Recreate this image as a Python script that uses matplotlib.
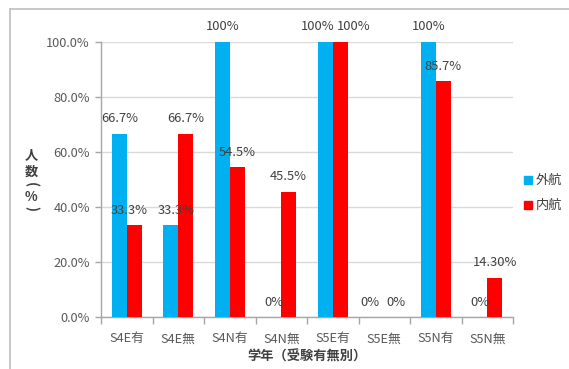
import matplotlib
matplotlib.use("Agg")
import matplotlib.pyplot as plt
from matplotlib.patches import Rectangle
import numpy as np

plt.rcParams['font.family'] = ['Noto Sans CJK JP', 'DejaVu Sans']

categories = ["S4E有", "S4E無", "S4N有", "S4N無", "S5E有", "S5E無", "S5N有", "S5N無"]
gaikou = [66.7, 33.3, 100, 0, 100, 0, 100, 0]
naikou = [33.3, 66.7, 54.5, 45.5, 100, 0, 85.7, 14.3]
gaikou_labels = ["66.7%", "33.3%", "100%", "0%", "100%", "0%", "100%", "0%"]
naikou_labels = ["33.3%", "66.7%", "54.5%", "45.5%", "100%", "0%", "85.7%", "14.30%"]
series_names = ["外航", "内航"]
yticks = [0, 20, 40, 60, 80, 100]
ytick_labels = ["0.0%", "20.0%", "40.0%", "60.0%", "80.0%", "100.0%"]

BLUE = "#00B0F0"
RED = "#FF0000"
GRID = "#D9D9D9"
TXT = "#404040"

# sideways nudges (pixels) so neighbouring value labels don't collide
nudge_gaikou = [0, 5, 0, 0, -8, -7, 0, 0]
nudge_naikou = [-5, 0, 0, 0, 13, 4, 0, 0]

W, H = 569, 369
fig = plt.figure(figsize=(W / 100, H / 100), dpi=100)
ax = fig.add_axes([101 / W, 1 - 317 / H, (513 - 101) / W, (317 - 42) / H])

x = np.arange(len(categories))
bw = 0.29
ax.bar(x - bw / 2, gaikou, width=bw, color=BLUE, zorder=3)
ax.bar(x + bw / 2, naikou, width=bw, color=RED, zorder=3)

# value labels above each bar
for xs, vals, labels, nudges in [(x - bw / 2, gaikou, gaikou_labels, nudge_gaikou),
                                 (x + bw / 2, naikou, naikou_labels, nudge_naikou)]:
    for xi, v, t, dx in zip(xs, vals, labels, nudges):
        ax.annotate(t, xy=(xi, v), xytext=(dx, 15), textcoords="offset pixels",
                    ha="center", va="center", fontsize=9.3, color=TXT,
                    zorder=5, annotation_clip=False)

ax.set_xlim(-0.5, len(categories) - 0.5)
ax.set_ylim(0, 100)
ax.set_yticks(yticks)
ax.set_yticklabels(ytick_labels, fontsize=9.2, color="#595959")
ax.yaxis.grid(True, color=GRID, lw=1, zorder=0)
ax.set_axisbelow(True)

ax.set_xticks(x)
ax.set_xticklabels(categories, fontsize=9.2, color="#595959")
ax.tick_params(axis="x", length=0, pad=11)
ax.set_xticks(np.arange(len(categories) + 1) - 0.5, minor=True)
ax.tick_params(axis="x", which="minor", length=5, color="#A6A6A6", width=1)
ax.tick_params(axis="y", length=4, color="#A6A6A6", width=1, pad=4)

for s in ["top", "right"]:
    ax.spines[s].set_visible(False)
for s in ["left", "bottom"]:
    ax.spines[s].set_color("#A6A6A6")
    ax.spines[s].set_linewidth(1)

# axis titles
fig.text(307 / W, 1 - 357 / H, "学年（受験有無別）", ha="center", va="center",
         fontsize=9.5, fontweight="bold", color=TXT)
# stacked vertical title: 人 数 （ % ）
ytitle = [("人", 155, 0), ("数", 172, 0), ("(", 185, -90), ("%", 197, 0), (")", 209, -90)]
for ch, yp, rot in ytitle:
    fig.text(31 / W, 1 - yp / H, ch, ha="center", va="center", rotation=rot,
             fontsize=9.5, fontweight="bold", color=TXT)

# legend
for i, (name, col) in enumerate(zip(series_names, [BLUE, RED])):
    yc = 180 + 25 * i
    fig.patches.append(Rectangle((524 / W, 1 - (yc + 4) / H), 8 / W, 8 / H,
                                 transform=fig.transFigure, color=col))
    fig.text(536 / W, 1 - yc / H, name, ha="left", va="center",
             fontsize=9.5, color=TXT)

# chart frame (left and top edges)
fig.add_artist(plt.Line2D([10 / W, 10 / W], [0, 1 - 9 / H], transform=fig.transFigure,
                          color="#BFBFBF", lw=1.2))
fig.add_artist(plt.Line2D([10 / W, 1], [1 - 9 / H, 1 - 9 / H], transform=fig.transFigure,
                          color="#BFBFBF", lw=1.2))

fig.savefig("out.png", dpi=100)
